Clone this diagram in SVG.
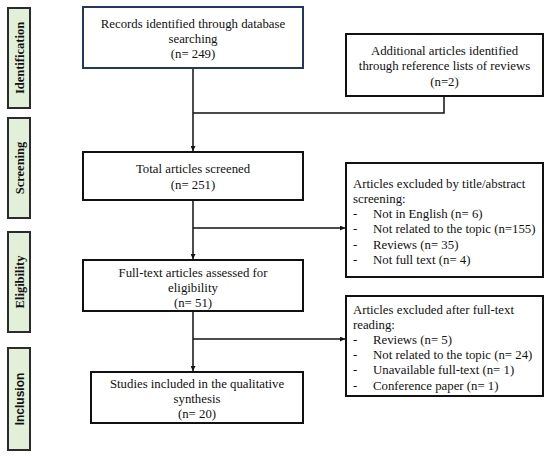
<svg xmlns="http://www.w3.org/2000/svg" width="550" height="457" viewBox="0 0 550 457">
<defs>
<style>
.side{fill:#e2efd9;stroke:#2b2b2b;stroke-width:2}
.box{fill:#fff;stroke:#111;stroke-width:2}
.blue{fill:#fff;stroke:#1f3864;stroke-width:2}
.st{font-family:"Liberation Serif",serif;font-weight:bold;font-size:12.5px;fill:#111}
.ss{font-family:"Liberation Sans",sans-serif;font-weight:bold;font-size:12px;fill:#111}
.t{font-family:"Liberation Serif",serif;font-size:12.8px;fill:#111}
.c{text-anchor:middle}
.ln{fill:none;stroke:#111;stroke-width:1.5}
</style>
<marker id="ar" viewBox="0 0 10 10" refX="10" refY="5" markerWidth="5" markerHeight="5" orient="auto" markerUnits="userSpaceOnUse">
<path d="M0,0 L10,5 L0,10 z" fill="#111"/>
</marker>
</defs>
<rect width="550" height="457" fill="#fff"/>
<g id="side-identification"><rect class="side" x="8" y="8" width="22" height="100"/><text class="st c" transform="translate(23.5,58) rotate(-90)">Identification</text></g>
<g id="side-screening"><rect class="side" x="8" y="118" width="22" height="100"/><text class="st c" transform="translate(23.5,168) rotate(-90)">Screening</text></g>
<g id="side-eligibility"><rect class="side" x="8" y="232" width="22" height="100"/><text class="st c" transform="translate(23.5,282) rotate(-90)">Eligibility</text></g>
<g id="side-inclusion"><rect class="side" x="8" y="348" width="22" height="102"/><text class="ss c" transform="translate(23.5,399) rotate(-90)">Inclusion</text></g>

<g id="connectors">
<line class="ln" x1="193" y1="68" x2="193" y2="151" marker-end="url(#ar)"/>
<polyline class="ln" points="444,96 444,113 193,113"/>
<line class="ln" x1="193" y1="200" x2="193" y2="259" marker-end="url(#ar)"/>
<line class="ln" x1="193" y1="228" x2="345" y2="228" marker-end="url(#ar)"/>
<line class="ln" x1="193" y1="311" x2="193" y2="371" marker-end="url(#ar)"/>
<line class="ln" x1="193" y1="339" x2="345" y2="339" marker-end="url(#ar)"/>
</g>

<g id="records"><rect class="blue" x="83" y="7" width="220" height="61"/>
<text class="t c" x="193" y="28">Records identified through database</text>
<text class="t c" x="193" y="43">searching</text>
<text class="t c" x="193" y="58">(n= 249)</text></g>

<g id="additional"><rect class="box" x="346" y="34" width="197" height="62"/>
<text class="t c" x="444.5" y="55">Additional articles identified</text>
<text class="t c" x="444.5" y="70">through reference lists of reviews</text>
<text class="t c" x="444.5" y="86">(n=2)</text></g>

<g id="screened"><rect class="box" x="83" y="152" width="220" height="48"/>
<text class="t c" x="193" y="173">Total articles screened</text>
<text class="t c" x="193" y="189">(n= 251)</text></g>

<g id="excluded-title"><rect class="box" x="346" y="163" width="197" height="114"/>
<text class="t" x="353" y="188">Articles excluded by title/abstract</text>
<text class="t" x="353" y="203">screening:</text>
<text class="t" x="353" y="218">-</text><text class="t" x="373" y="218">Not in English (n= 6)</text>
<text class="t" x="353" y="233">-</text><text class="t" x="373" y="233">Not related to the topic (n=155)</text>
<text class="t" x="353" y="249">-</text><text class="t" x="373" y="249">Reviews (n= 35)</text>
<text class="t" x="353" y="264">-</text><text class="t" x="373" y="264">Not full text (n= 4)</text></g>

<g id="fulltext"><rect class="box" x="83" y="260" width="220" height="51"/>
<text class="t c" x="193" y="277">Full-text articles assessed for</text>
<text class="t c" x="193" y="292">eligibility</text>
<text class="t c" x="193" y="307">(n= 51)</text></g>

<g id="excluded-fulltext"><rect class="box" x="346" y="296" width="197" height="100"/>
<text class="t" x="353" y="314">Articles excluded after full-text</text>
<text class="t" x="353" y="329">reading:</text>
<text class="t" x="353" y="344">-</text><text class="t" x="373" y="344">Reviews (n= 5)</text>
<text class="t" x="353" y="359">-</text><text class="t" x="373" y="359">Not related to the topic (n= 24)</text>
<text class="t" x="353" y="374">-</text><text class="t" x="373" y="374">Unavailable full-text (n= 1)</text>
<text class="t" x="353" y="390">-</text><text class="t" x="373" y="390">Conference paper (n= 1)</text></g>

<g id="included"><rect class="box" x="91" y="372" width="212" height="51"/>
<text class="t c" x="197" y="388">Studies included in the qualitative</text>
<text class="t c" x="197" y="403">synthesis</text>
<text class="t c" x="197" y="418">(n= 20)</text></g>
</svg>
